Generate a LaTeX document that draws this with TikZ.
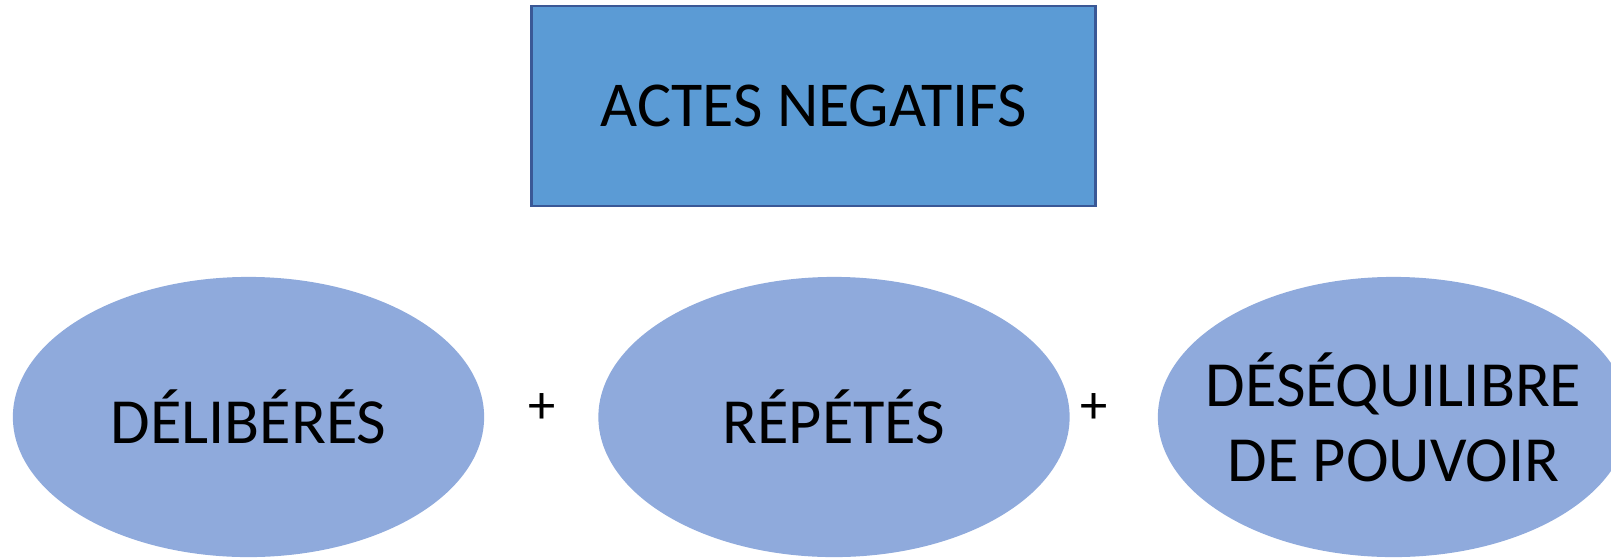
\documentclass[tikz,border=0pt]{standalone}
\usepackage{fontspec}
\setmainfont{Carlito}
\usetikzlibrary{shapes.geometric}
\definecolor{boxblue}{HTML}{5B9BD5}
\definecolor{boxedge}{HTML}{3A5896}
\definecolor{ovalblue}{HTML}{8FAADC}
\tikzset{
    titlebox/.style={draw=boxedge,line width=0.28mm,fill=boxblue,minimum width=5.63cm,minimum height=2.0cm,inner sep=0pt,font=\fontsize{18.2}{21.3}\selectfont},
    oval/.style={ellipse,fill=ovalblue,minimum width=4.71cm,minimum height=2.8cm,inner sep=0pt,align=center,font=\fontsize{18.3}{21.3}\selectfont},
    plus/.style={font=\fontsize{15.5}{18}\selectfont}
}
\begin{document}
\begin{tikzpicture}[x=0.01cm,y=-0.01cm]
            \useasboundingbox (0,0) rectangle (1611,557);
            \clip (0,0) rectangle (1611,557);
            \node[titlebox] (actes) at (813.5,106) {ACTES NEGATIFS};
%             three ovals in a row
            \node[oval] (delib) at (248.5,417) {DÉLIBÉRÉS};
            \node[oval] (repet) at (834,417) {RÉPÉTÉS};
            \node[oval,inner xsep=-0.3cm] (desequ) at (1393.5,417) {DÉSÉQUILIBRE\\DE POUVOIR};
            \node[plus] (plusa) at (542,409) {+};
            \node[plus] (plusb) at (1094,409) {+};
        \end{tikzpicture}
\end{document}
